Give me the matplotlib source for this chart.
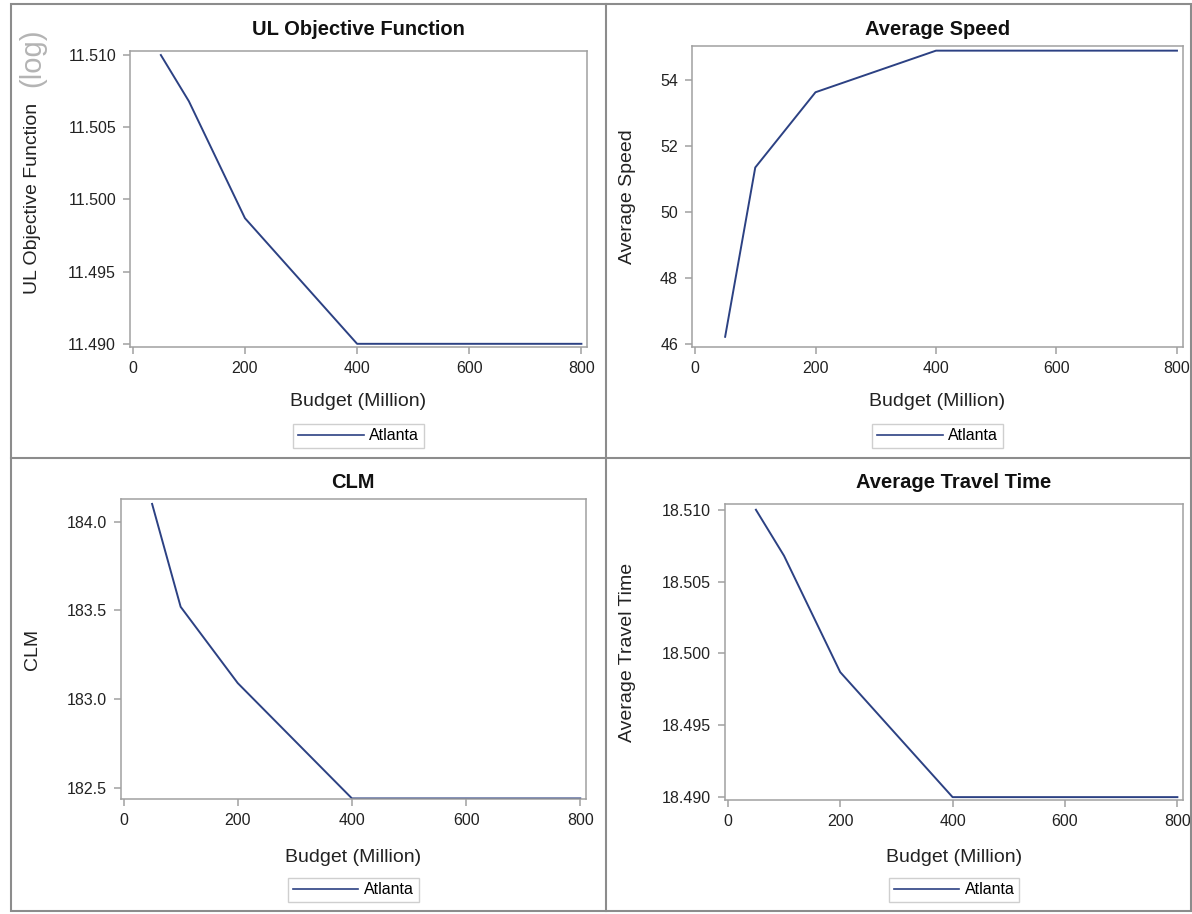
import matplotlib
matplotlib.use("Agg")
import matplotlib.pyplot as plt
from matplotlib.lines import Line2D
from matplotlib.patches import Rectangle
from matplotlib.ticker import FormatStrFormatter, MultipleLocator

plt.rcParams['font.family'] = ['Liberation Sans', 'DejaVu Sans']

# data
budget = [50, 100, 200, 400, 800]
ul_obj = [11.5100, 11.5068, 11.4987, 11.4900, 11.4900]
avg_speed = [46.22, 51.35, 53.63, 54.89, 54.89]
clm = [184.10, 183.52, 183.09, 182.44, 182.44]
avg_tt = [18.5100, 18.5068, 18.4987, 18.4900, 18.4900]
series_name = 'Atlanta'

W, H = 1192, 914
fig = plt.figure(figsize=(W / 100, H / 100), dpi=100)

line_col = '#2c4183'
spine_col = '#a0a0a0'
frame_col = '#8c8c8c'


def px_axes(l, t, r, b):
    return fig.add_axes([l / W, 1 - b / H, (r - l) / W, (b - t) / H])


def setup(ax, y, title, ylabel, ylim, step, fmt, ylab_x, title_y, xlab_y, leg_y):
    ax.plot(budget, y, color=line_col, lw=1.4, label=series_name)
    ax.set_xlim(-5, 810)
    ax.set_ylim(*ylim)
    ax.xaxis.set_major_locator(MultipleLocator(200))
    ax.yaxis.set_major_locator(MultipleLocator(step))
    ax.yaxis.set_major_formatter(FormatStrFormatter(fmt))
    for s in ax.spines.values():
        s.set_color(spine_col)
        s.set_linewidth(1.1)
    ax.tick_params(axis='both', direction='out', length=5, width=1.1,
                   color=spine_col, labelsize=11.5, pad=5, labelcolor='#222222')
    bb = ax.get_position()
    cx = (bb.x0 + bb.x1) / 2
    cy = (bb.y0 + bb.y1) / 2
    fig.text(cx, 1 - title_y / H, title, ha='center', va='baseline',
             fontsize=14.5, fontweight='bold', color='#111111')
    fig.text(ylab_x / W, cy, ylabel, ha='center', va='center', rotation=90,
             fontsize=14, color='#222222')
    fig.text(cx, 1 - xlab_y / H, 'Budget (Million)', ha='center', va='center',
             fontsize=14, color='#222222')
    leg = ax.legend(loc='center', bbox_to_anchor=(cx, 1 - leg_y / H),
                    bbox_transform=fig.transFigure, frameon=True, fancybox=False,
                    fontsize=11.5, handlelength=4.1, handletextpad=0.35,
                    borderpad=0.3, borderaxespad=0)
    leg.get_frame().set_edgecolor('#c4c4c4')
    leg.get_frame().set_linewidth(1.0)
    leg.get_lines()[0].set_linewidth(1.2)


ax1 = px_axes(130, 50.7, 587, 346.7)
setup(ax1, ul_obj, 'UL Objective Function', 'UL Objective Function',
      (11.4898, 11.5103), 0.005, '%.3f', 33, 35, 402, 436)

ax2 = px_axes(692, 45.7, 1183, 346.7)
setup(ax2, avg_speed, 'Average Speed', 'Average Speed',
      (45.92, 55.04), 2, '%d', 628, 35, 402, 436)

ax3 = px_axes(120.7, 499.3, 586, 799.3)
setup(ax3, clm, 'CLM', 'CLM',
      (182.435, 184.126), 0.5, '%.1f', 33, 488, 857, 890)

ax4 = px_axes(725, 504, 1183, 800)
setup(ax4, avg_tt, 'Average Travel Time', 'Average Travel Time',
      (18.4898, 18.5104), 0.005, '%.3f', 628, 488, 857, 890)

# gray "(log)" overlay text at top left
fig.text(32.5 / W, 1 - 58 / H, '(log)', rotation=90, ha='center', va='center',
         fontsize=21, color='#b4b4b4')

# panel frames
fig.add_artist(Rectangle((11 / W, 1 - 911 / H), (1191 - 11) / W, (911 - 4) / H,
                         transform=fig.transFigure, fill=False,
                         edgecolor=frame_col, lw=1.5))
fig.add_artist(Line2D([605.7 / W, 605.7 / W], [1 - 4 / H, 1 - 911 / H],
                      transform=fig.transFigure, color=frame_col, lw=1.5))
fig.add_artist(Line2D([11 / W, 1191 / W], [1 - 458.3 / H, 1 - 458.3 / H],
                      transform=fig.transFigure, color=frame_col, lw=1.5))

fig.savefig('out.png', dpi=100)
